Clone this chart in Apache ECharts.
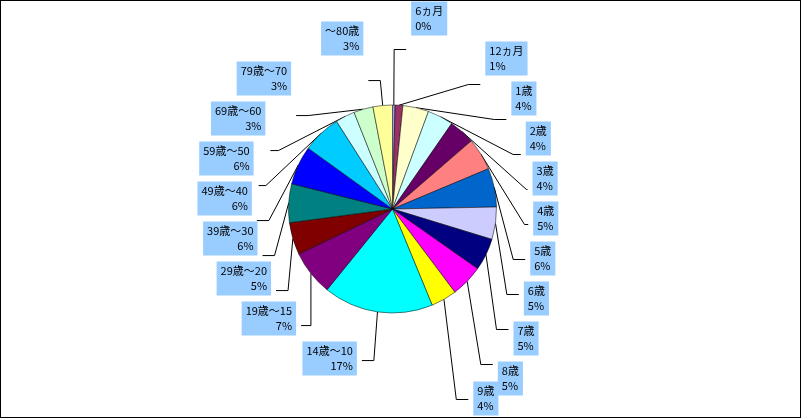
<!DOCTYPE html>
<html>
<head>
<meta charset="utf-8">
<script src="https://cdn.jsdelivr.net/npm/echarts@6/dist/echarts.min.js"></script>
<style>
html,body{margin:0;padding:0;background:#fff;}
#main{width:799px;height:416px;border:1px solid #000;}
</style>
</head>
<body>
<div id="main"></div>
<script>
// 年齢区分と割合(%)
var categories = ['6ヵ月', '12ヵ月', '1歳', '2歳', '3歳', '4歳', '5歳', '6歳', '7歳', '8歳', '9歳',
    '14歳～10', '19歳～15', '29歳～20', '39歳～30', '49歳～40', '59歳～50', '69歳～60', '79歳～70', '～80歳'];
var values = [0.4, 1.2, 4, 4, 4, 5, 6, 5, 5, 5, 4, 17, 7, 5, 6, 6, 6, 3, 3, 3];
var colors = ['#9999ff', '#993366', '#ffffcc', '#ccffff', '#660066', '#ff8080', '#0066cc', '#ccccff',
    '#000080', '#ff00ff', '#ffff00', '#00ffff', '#800080', '#800000', '#008080', '#0000ff',
    '#00ccff', '#ccffff', '#ccffcc', '#ffff99'];

var data = [];
for (var i = 0; i < categories.length; i++) {
    data.push({name: categories[i], value: values[i], itemStyle: {color: colors[i]}});
}

var chart = echarts.init(document.getElementById('main'));
chart.setOption({
    animation: false,
    series: [{
        type: 'pie',
        center: ['49%', '50%'],
        radius: '50%',
        startAngle: 90,
        clockwise: true,
        avoidLabelOverlap: true,
        data: data,
        itemStyle: {borderColor: '#000', borderWidth: 0.5},
        label: {
            formatter: function (p) {
                return p.name + '\n' + Math.round(p.value) + '%';
            },
            color: '#000',
            fontSize: 11,
            fontFamily: 'Noto Sans CJK JP',
            backgroundColor: '#99ccff',
            padding: [2, 4],
            align: 'center',
            lineHeight: 15,
            minMargin: 1
        },
        labelLayout: {hideOverlap: false, moveOverlap: 'shiftY'},
        labelLine: {
            length: 25,
            length2: 12,
            lineStyle: {color: '#000', width: 1}
        }
    }]
});
</script>
</body>
</html>
